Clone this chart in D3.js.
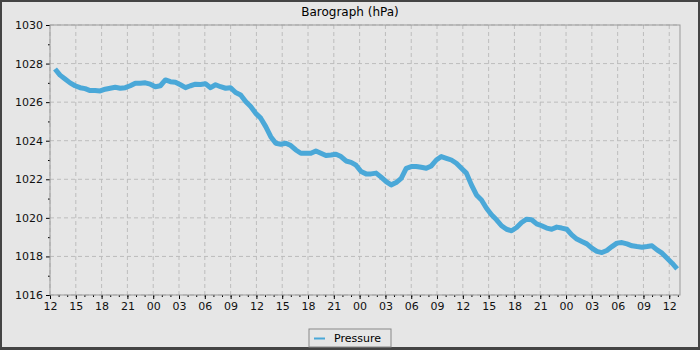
<!DOCTYPE html>
<html>
<head>
<meta charset="utf-8">
<script src="https://cdn.jsdelivr.net/npm/d3@7"></script>
<style>
  body { margin: 0; background: #444; }
  svg { display: block; font-family: "DejaVu Sans", sans-serif; }
</style>
</head>
<body>
<svg id="chart" width="700" height="350"></svg>
<script>
// readings every 35 minutes, first one at 12:35 on day 1
const startTime = new Date(2024, 0, 1, 12, 0);
const stepMinutes = 35;
const pressure = [
  1027.72, 1027.40, 1027.20, 1027.00, 1026.85, 1026.75, 1026.70, 1026.60, 1026.60, 1026.58,
  1026.67, 1026.72, 1026.77, 1026.72, 1026.75, 1026.85, 1026.98, 1026.98, 1027.00, 1026.93,
  1026.80, 1026.85, 1027.15, 1027.06, 1027.03, 1026.90, 1026.75, 1026.85, 1026.93, 1026.92,
  1026.95, 1026.75, 1026.90, 1026.80, 1026.72, 1026.75, 1026.50, 1026.37, 1026.03, 1025.77,
  1025.42, 1025.17, 1024.73, 1024.21, 1023.87, 1023.82, 1023.87, 1023.75, 1023.52, 1023.35,
  1023.35, 1023.35, 1023.47, 1023.35, 1023.23, 1023.26, 1023.30, 1023.18, 1022.95, 1022.88,
  1022.73, 1022.40, 1022.28, 1022.28, 1022.32, 1022.11, 1021.88, 1021.71, 1021.83, 1022.05,
  1022.57, 1022.66, 1022.66, 1022.62, 1022.57, 1022.69, 1023.00, 1023.18, 1023.09, 1023.00,
  1022.83, 1022.57, 1022.32, 1021.71, 1021.19, 1020.93, 1020.50, 1020.16, 1019.90, 1019.59,
  1019.41, 1019.33, 1019.50, 1019.76, 1019.93, 1019.90, 1019.69, 1019.59, 1019.47, 1019.41,
  1019.52, 1019.47, 1019.41, 1019.12, 1018.90, 1018.77, 1018.65, 1018.43, 1018.26, 1018.20,
  1018.31, 1018.51, 1018.69, 1018.72, 1018.65, 1018.55, 1018.51, 1018.48, 1018.51, 1018.55,
  1018.34, 1018.17, 1017.91, 1017.65, 1017.35
];
const yTicks = [1016, 1018, 1020, 1022, 1024, 1026, 1028, 1030];
const seriesName = "Pressure";
const chartTitle = "Barograph (hPa)";

const color = "#4aa8d8";
const margin = { top: 25, left: 50, right: 20, bottom: 55 },
    width = 700 - margin.left - margin.right,
    height = 350 - margin.top - margin.bottom;

const data = pressure.map(function(v, i) {
  return { t: d3.timeMinute.offset(startTime, stepMinutes * (i + 1)), v: v };
});

var svg = d3.select("#chart");

// page background with dark frame
svg.append("rect").attr("width", 700).attr("height", 350).attr("fill", "#444");
svg.append("rect").attr("x", 2).attr("y", 2).attr("width", 696).attr("height", 345).attr("fill", "#e6e6e6");

svg.append("text")
  .attr("x", 350).attr("y", 16)
  .attr("text-anchor", "middle")
  .attr("font-size", 12)
  .attr("fill", "#000")
  .text(chartTitle);

var x = d3.scaleTime()
  .domain([startTime, d3.timeMinute.offset(startTime, 73 * 60 + 15)])
  .range([0, width]);
var y = d3.scaleLinear().domain([1016, 1030]).range([height, 0]);

var g = svg.append("g").attr("transform", "translate(" + margin.left + "," + margin.top + ")");

// grid
var majorX = x.ticks(d3.timeHour.every(3));
g.selectAll(".gx").data(majorX).enter().append("line")
  .attr("x1", d => x(d)).attr("x2", d => x(d))
  .attr("y1", 0).attr("y2", height)
  .attr("stroke", "#bdbdbd").attr("stroke-dasharray", "4,3");
g.selectAll(".gy").data(yTicks).enter().append("line")
  .attr("x1", 0).attr("x2", width)
  .attr("y1", d => y(d)).attr("y2", d => y(d))
  .attr("stroke", "#bdbdbd").attr("stroke-dasharray", "4,3");

// axes
var xAxis = d3.axisBottom(x).ticks(d3.timeHour.every(3)).tickFormat(d3.timeFormat("%H")).tickSize(4).tickSizeOuter(0);
var xMinor = d3.axisBottom(x).ticks(d3.timeHour.every(1)).tickFormat("").tickSize(2).tickSizeOuter(0);
var yAxis = d3.axisLeft(y).tickValues(yTicks).tickFormat(d3.format("d")).tickSize(4).tickSizeOuter(0);
var yMinor = d3.axisLeft(y).tickValues(d3.range(1017, 1030, 2)).tickFormat("").tickSize(2).tickSizeOuter(0);

[g.append("g").attr("transform", "translate(0," + height + ")").call(xMinor),
 g.append("g").attr("transform", "translate(0," + height + ")").call(xAxis),
 g.append("g").call(yMinor),
 g.append("g").call(yAxis)].forEach(function(a) {
  a.select(".domain").remove();
  a.selectAll("line").attr("stroke", "#000");
  a.selectAll("text").attr("fill", "#111").attr("font-size", 11).attr("font-family", "DejaVu Sans, sans-serif");
});

// plot outline
g.append("rect")
  .attr("x", 0).attr("y", 0).attr("width", width).attr("height", height)
  .attr("fill", "none").attr("stroke", "#999");

// series
var line = d3.line().x(d => x(d.t)).y(d => y(d.v));
g.append("path")
  .datum(data)
  .attr("d", line)
  .attr("fill", "none")
  .attr("stroke", color)
  .attr("stroke-width", 5)
  .attr("stroke-linejoin", "round");

// legend
var legend = svg.append("g").attr("transform", "translate(309,329)");
legend.append("rect").attr("width", 82).attr("height", 18)
  .attr("fill", "#e6e6e6").attr("stroke", "#888");
legend.append("line").attr("x1", 5).attr("x2", 16).attr("y1", 9.5).attr("y2", 9.5)
  .attr("stroke", color).attr("stroke-width", 2);
legend.append("text").attr("x", 25).attr("y", 13).attr("font-size", 11).attr("fill", "#000").text(seriesName);
</script>
</body>
</html>
